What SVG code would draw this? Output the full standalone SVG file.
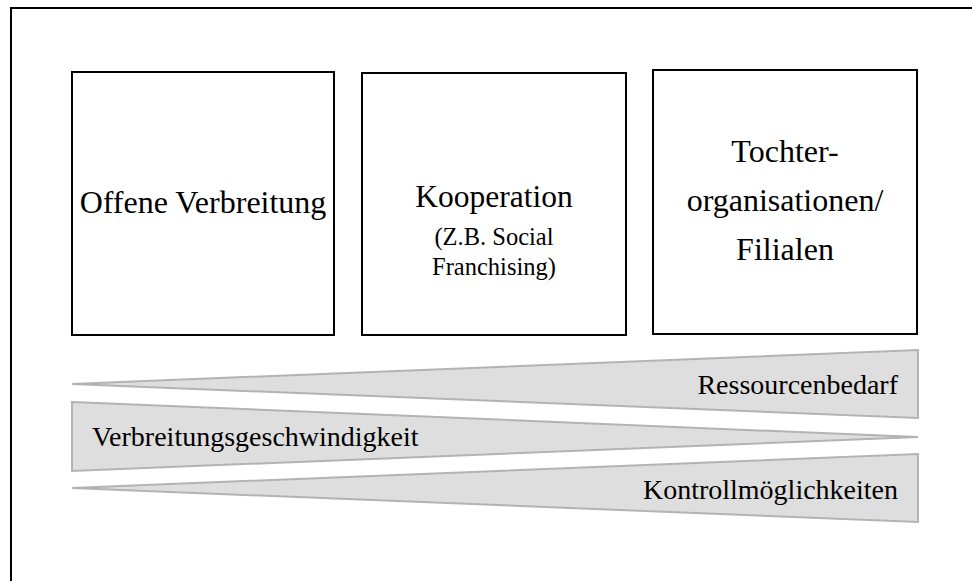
<svg xmlns="http://www.w3.org/2000/svg" width="972" height="581" viewBox="0 0 972 581">
  <style>
    .frame { fill: #ffffff; stroke: #000000; stroke-width: 2; }
    .box { fill: #ffffff; stroke: #000000; stroke-width: 2; }
    .wedge { fill: #dedede; stroke: #b3b3b3; stroke-width: 2; stroke-linejoin: miter; }
  </style>

  <rect width="972" height="581" fill="#ffffff"/>
  <!-- outer frame, running off the right and bottom edges -->
  <rect class="frame" x="11" y="8" width="1000" height="620"/>

  <g id="offene-verbreitung">
    <rect class="box" x="72" y="72" width="262" height="263"/>
    <text x="203" y="213" font-family="'Liberation Serif'" font-size="32" text-anchor="middle">Offene Verbreitung</text>
  </g>

  <g id="kooperation">
    <rect class="box" x="362" y="73" width="264" height="262"/>
    <text x="494" y="207" font-family="'Liberation Serif'" font-size="31.5" text-anchor="middle">Kooperation</text>
    <text x="494" y="245" font-family="'Liberation Serif'" font-size="24.5" text-anchor="middle">(Z.B. Social</text>
    <text x="494" y="275" font-family="'Liberation Serif'" font-size="24.5" text-anchor="middle">Franchising)</text>
  </g>

  <g id="tochterorganisationen">
    <rect class="box" x="653" y="70" width="264" height="264"/>
    <text x="785" y="162" font-family="'Liberation Serif'" font-size="32" text-anchor="middle">Tochter-</text>
    <text x="785" y="211" font-family="'Liberation Serif'" font-size="32" text-anchor="middle">organisationen/</text>
    <text x="785" y="260" font-family="'Liberation Serif'" font-size="32" text-anchor="middle">Filialen</text>
  </g>

  <g id="ressourcenbedarf">
    <polygon class="wedge" points="72,384 918,350 918,418"/>
    <text x="898" y="394" font-family="'Liberation Serif'" font-size="28" text-anchor="end">Ressourcenbedarf</text>
  </g>

  <g id="verbreitungsgeschwindigkeit">
    <polygon class="wedge" points="72,402 918,437 72,471"/>
    <text x="92" y="446" font-family="'Liberation Serif'" font-size="28">Verbreitungsgeschwindigkeit</text>
  </g>

  <g id="kontrollmoeglichkeiten">
    <polygon class="wedge" points="72,488 918,454 918,522"/>
    <text x="898" y="499" font-family="'Liberation Serif'" font-size="28" text-anchor="end">Kontrollmöglichkeiten</text>
  </g>

  <g id="connectors"/>
</svg>
